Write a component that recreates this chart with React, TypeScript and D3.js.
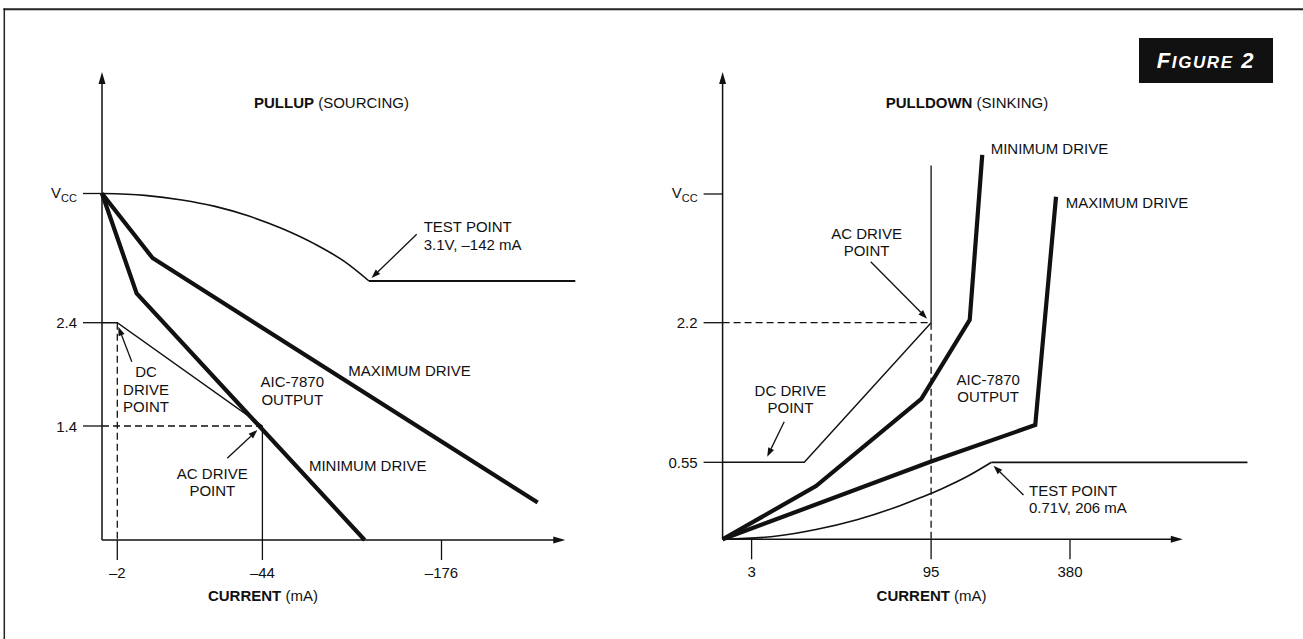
import React from 'react';
import * as d3 from 'd3';

type Pt = [number, number];

// ---------------- LEFT PANEL: PULLUP (SOURCING) — current (mA), voltage (V)
const pullupXTicks = [-2, -44, -176];
const pullupXTickLabels = ['–2', '–44', '–176'];
const pullupYTicks = [2.4, 1.4];
const pullupYTickLabels = ['2.4', '1.4'];
const pullupVcc = 5;
const pullupTestCurve: Pt[] = [
  [0, 5], [-10, 4.96], [-20.7, 4.86], [-30.3, 4.72], [-40.1, 4.51],
  [-62, 4.24], [-92.4, 3.9], [-119, 3.53], [-142, 3.1],
];
const pullupTestFlat: Pt[] = [[-142, 3.1], [-256, 3.1]];
const pullupMaxDrive: Pt[] = [[0, 5], [-12.2, 3.6], [-233.5, 0.46]];
const pullupMinDrive: Pt[] = [[0, 5], [-7.6, 2.89], [-138, 0]];
const pullupOutput: Pt[] = [[0, 2.4], [-2, 2.4], [-44, 1.4]];
const pullupDcPoint: Pt = [-2, 2.4];
const pullupAcPoint: Pt = [-44, 1.4];
const pullupTestPoint: Pt = [-142, 3.1];

// ---------------- RIGHT PANEL: PULLDOWN (SINKING)
const pulldownXTicks = [3, 95, 380];
const pulldownXTickLabels = ['3', '95', '380'];
const pulldownYTicks = [2.2, 0.55];
const pulldownYTickLabels = ['2.2', '0.55'];
const pulldownVcc = 5;
const pulldownTestCurve: Pt[] = [
  [0, 0], [14, 0.02], [36, 0.07], [57, 0.14], [79, 0.24], [90, 0.3],
  [114, 0.36], [162, 0.45], [206, 0.55],
];
const pulldownTestFlat: Pt[] = [[206, 0.55], [726, 0.55]];
const pulldownMinDrive: Pt[] = [[0, 0], [36, 0.38], [90, 1.3], [166, 2.26], [189, 5.48]];
const pulldownMaxDrive: Pt[] = [[0, 0], [95, 0.56], [303, 0.99], [349, 4.94]];
const pulldownOutput: Pt[] = [[0, 0.55], [30, 0.55], [95, 2.2]];
const pulldownAcLine: Pt[] = [[95, 5.35], [95, 2.2]];
const pulldownDcPoint: Pt = [11, 0.55];
const pulldownAcPoint: Pt = [95, 2.2];
const pulldownTestPoint: Pt = [206, 0.55];

const FONT = '"Liberation Sans", Arial, Helvetica, sans-serif';
const INK = '#111';
const FS = 15;

function Arrow({ x1, y1, x2, y2, head = 9, half = 3.2, width = 1.3 }:
  { x1: number; y1: number; x2: number; y2: number; head?: number; half?: number; width?: number }) {
  const a = Math.atan2(y2 - y1, x2 - x1);
  const bx = x2 - head * Math.cos(a);
  const by = y2 - head * Math.sin(a);
  const px = -Math.sin(a) * half;
  const py = Math.cos(a) * half;
  return (
    <g>
      <line x1={x1} y1={y1} x2={bx} y2={by} stroke={INK} strokeWidth={width} />
      <polygon points={`${x2},${y2} ${bx + px},${by + py} ${bx - px},${by - py}`} fill={INK} />
    </g>
  );
}

function Lines({ lines, x, y, anchor = 'middle', dy = 17.5 }:
  { lines: string[]; x: number; y: number; anchor?: string; dy?: number }) {
  return (
    <text x={x} y={y} textAnchor={anchor as any} fontFamily={FONT} fontSize={FS} fill={INK}>
      {lines.map((l, i) => (
        <tspan key={i} x={x} dy={i === 0 ? 0 : dy}>{l}</tspan>
      ))}
    </text>
  );
}

function Panel({ xs, ys, xMax, yMax, xTicks, xTickLabels, yTicks, yTickLabels, vcc, title, titleRest, children }:
  any) {
  const x0 = xs(0);
  const y0 = ys(0);
  const yTop = ys(yMax);
  const xEnd = xs(xMax);
  return (
    <g>
      {/* axes */}
      <line x1={x0} y1={y0} x2={x0} y2={yTop + 9} stroke={INK} strokeWidth={1.5} />
      <polygon points={`${x0},${yTop} ${x0 - 3.5},${yTop + 12} ${x0 + 3.5},${yTop + 12}`} fill={INK} />
      <line x1={x0} y1={y0} x2={xEnd - 9} y2={y0} stroke={INK} strokeWidth={1.5} />
      <polygon points={`${xEnd},${y0} ${xEnd - 12},${y0 - 3.5} ${xEnd - 12},${y0 + 3.5}`} fill={INK} />
      {/* y ticks */}
      {yTicks.map((t: number, i: number) => (
        <g key={'yt' + i}>
          <line x1={x0 - 19} x2={x0} y1={ys(t)} y2={ys(t)} stroke={INK} strokeWidth={1.3} />
          <text x={x0 - 25} y={ys(t) + 5.5} textAnchor="end" fontFamily={FONT} fontSize={FS} fill={INK}>{yTickLabels[i]}</text>
        </g>
      ))}
      <line x1={x0 - 19} x2={x0} y1={ys(vcc)} y2={ys(vcc)} stroke={INK} strokeWidth={1.3} />
      <text x={x0 - 25} y={ys(vcc) + 4} textAnchor="end" fontFamily={FONT} fontSize={FS} fill={INK}>
        V<tspan fontSize={11} dy={4}>CC</tspan>
      </text>
      {/* x ticks */}
      {xTicks.map((t: number, i: number) => (
        <g key={'xt' + i}>
          <line x1={xs(t)} x2={xs(t)} y1={y0} y2={y0 + 20} stroke={INK} strokeWidth={1.3} />
          <text x={xs(t)} y={y0 + 37.5} textAnchor="middle" fontFamily={FONT} fontSize={FS} fill={INK}>{xTickLabels[i]}</text>
        </g>
      ))}
      <text x={(xs(xTicks[1]) + 0.5)} y={600.5} textAnchor="middle" fontFamily={FONT} fontSize={FS} fill={INK}>
        <tspan fontWeight="bold">CURRENT</tspan> (mA)
      </text>
      {children}
    </g>
  );
}

export default function App() {
  const lx = d3.scaleLinear().domain([0, -2, -44, -142, -176, -260]).range([102, 117.3, 262.4, 369, 441.5, 582]);
  const ly = d3.scaleLinear().domain([0, 1.4, 2.4, 3.1, 5, 6.6]).range([540, 426, 322.7, 281, 193.5, 72]);
  const rx = d3.scaleLinear().domain([0, 3, 95, 206, 380, 600, 730]).range([722.6, 751.6, 931.1, 991.5, 1070, 1182.8, 1249.5]);
  const ry = d3.scaleLinear().domain([0, 0.55, 2.2, 5, 6.5]).range([539.3, 462.3, 322.7, 194, 72]);

  const mk = (xs: any, ys: any, curve: any = d3.curveLinear) =>
    d3.line<Pt>().x(d => xs(d[0])).y(d => ys(d[1])).curve(curve);
  const lLin = mk(lx, ly);
  const lCur = mk(lx, ly, d3.curveMonotoneX);
  const rLin = mk(rx, ry);
  const rCur = mk(rx, ry, d3.curveMonotoneX);

  const thick = { fill: 'none', stroke: INK, strokeWidth: 4.2, strokeLinejoin: 'miter' as const };
  const thin = { fill: 'none', stroke: INK, strokeWidth: 1.4 };
  const dash = { stroke: INK, strokeWidth: 1.3, strokeDasharray: '7 4' };

  return (
    <svg width={1303} height={639} style={{ position: 'absolute', left: 0, top: 0, background: '#fff', display: 'block' }}>
      <rect x={0} y={0} width={1303} height={639} fill="#fff" />
      {/* frame */}
      <line x1={3.5} y1={9.3} x2={1303} y2={9.3} stroke="#222" strokeWidth={2} />
      <line x1={4.3} y1={8.3} x2={4.3} y2={639} stroke="#222" strokeWidth={1.5} />

      {/* FIGURE 2 badge */}
      <rect x={1139} y={38} width={134} height={45} fill="#111" />
      <text x={1206} y={67.5} textAnchor="middle" fontFamily={FONT} fontWeight="bold" fontStyle="italic" fill="#fff" letterSpacing={1.6}>
        <tspan fontSize={22}>F</tspan><tspan fontSize={17}>IGURE</tspan><tspan fontSize={22}> 2</tspan>
      </text>

      {/* LEFT PANEL */}
      <Panel xs={lx} ys={ly} xMax={-250} yMax={6.6} xTicks={pullupXTicks} xTickLabels={pullupXTickLabels}
        yTicks={pullupYTicks} yTickLabels={pullupYTickLabels} vcc={pullupVcc}>
        <text x={331.5} y={107.5} textAnchor="middle" fontFamily={FONT} fontSize={FS} fill={INK}>
          <tspan fontWeight="bold">PULLUP</tspan> (SOURCING)
        </text>
        {/* guides */}
        <line x1={lx(pullupDcPoint[0])} x2={lx(pullupDcPoint[0])} y1={ly(pullupDcPoint[1])} y2={ly(0)} {...dash} />
        <line x1={lx(0)} x2={lx(pullupAcPoint[0])} y1={ly(pullupAcPoint[1])} y2={ly(pullupAcPoint[1])} {...dash} />
        <line x1={lx(pullupAcPoint[0])} x2={lx(pullupAcPoint[0])} y1={ly(pullupAcPoint[1])} y2={ly(0)} stroke={INK} strokeWidth={1.3} />
        {/* curves */}
        <path d={lCur(pullupTestCurve) || ''} {...thin} strokeWidth={1.6} />
        <path d={lLin(pullupTestFlat) || ''} {...thin} strokeWidth={1.8} />
        <path d={lLin(pullupOutput) || ''} {...thin} />
        <path d={lLin(pullupMaxDrive) || ''} {...thick} />
        <path d={lLin(pullupMinDrive) || ''} {...thick} />
        {/* annotations */}
        <Lines lines={['TEST POINT', '3.1V, –142 mA']} x={423.7} y={231.5} anchor="start" dy={18.3} />
        <Arrow x1={lx(pullupTestPoint[0]) + 47.7} y1={ly(pullupTestPoint[1]) - 46.7} x2={lx(pullupTestPoint[0]) + 2.5} y2={ly(pullupTestPoint[1]) - 3} />
        <Lines lines={['DC', 'DRIVE', 'POINT']} x={146} y={377.2} />
        <Arrow x1={lx(pullupDcPoint[0]) + 14.5} y1={ly(pullupDcPoint[1]) + 39} x2={lx(pullupDcPoint[0]) + 1} y2={ly(pullupDcPoint[1]) + 4} />
        <Lines lines={['AIC-7870', 'OUTPUT']} x={292.3} y={387.2} />
        <text x={348.3} y={375.5} fontFamily={FONT} fontSize={FS} fill={INK}>MAXIMUM DRIVE</text>
        <text x={308.9} y={470.5} fontFamily={FONT} fontSize={FS} fill={INK}>MINIMUM DRIVE</text>
        <Lines lines={['AC DRIVE', 'POINT']} x={212.3} y={478.8} dy={16.7} />
        <Arrow x1={lx(pullupAcPoint[0]) - 35.2} y1={ly(pullupAcPoint[1]) + 32.3} x2={lx(pullupAcPoint[0]) - 5} y2={ly(pullupAcPoint[1]) + 4} />
      </Panel>

      {/* RIGHT PANEL */}
      <Panel xs={rx} ys={ry} xMax={600} yMax={6.5} xTicks={pulldownXTicks} xTickLabels={pulldownXTickLabels}
        yTicks={pulldownYTicks} yTickLabels={pulldownYTickLabels} vcc={pulldownVcc}>
        <text x={967} y={107.5} textAnchor="middle" fontFamily={FONT} fontSize={FS} fill={INK}>
          <tspan fontWeight="bold">PULLDOWN</tspan> (SINKING)
        </text>
        {/* guides */}
        <line x1={rx(0)} x2={rx(pulldownAcPoint[0])} y1={ry(pulldownAcPoint[1])} y2={ry(pulldownAcPoint[1])} {...dash} />
        <line x1={rx(pulldownAcPoint[0])} x2={rx(pulldownAcPoint[0])} y1={ry(pulldownAcPoint[1])} y2={ry(0)} {...dash} />
        <path d={rLin(pulldownAcLine) || ''} {...thin} strokeWidth={1.3} />
        {/* curves */}
        <path d={rCur(pulldownTestCurve) || ''} {...thin} strokeWidth={1.6} />
        <path d={rLin(pulldownTestFlat) || ''} {...thin} strokeWidth={1.8} />
        <path d={rLin(pulldownOutput) || ''} {...thin} />
        <path d={rLin(pulldownMinDrive) || ''} {...thick} />
        <path d={rLin(pulldownMaxDrive) || ''} {...thick} />
        {/* annotations */}
        <text x={990.7} y={153.8} fontFamily={FONT} fontSize={FS} fill={INK}>MINIMUM DRIVE</text>
        <text x={1065.7} y={208} fontFamily={FONT} fontSize={FS} fill={INK}>MAXIMUM DRIVE</text>
        <Lines lines={['AC DRIVE', 'POINT']} x={866.6} y={238.8} dy={16.7} />
        <Arrow x1={rx(pulldownAcPoint[0]) - 60.4} y1={ry(pulldownAcPoint[1]) - 61} x2={rx(pulldownAcPoint[0]) - 4} y2={ry(pulldownAcPoint[1]) - 4} />
        <Lines lines={['DC DRIVE', 'POINT']} x={790.4} y={395.5} dy={17.3} />
        <Arrow x1={rx(pulldownDcPoint[0]) + 17} y1={ry(pulldownDcPoint[1]) - 40.6} x2={rx(pulldownDcPoint[0])} y2={ry(pulldownDcPoint[1]) - 5.6} />
        <Lines lines={['AIC-7870', 'OUTPUT']} x={988.2} y={384.5} dy={17} />
        <Lines lines={['TEST POINT', '0.71V, 206 mA']} x={1029} y={495.5} anchor="start" dy={17.3} />
        <Arrow x1={rx(pulldownTestPoint[0]) + 32} y1={ry(pulldownTestPoint[1]) + 32.7} x2={rx(pulldownTestPoint[0]) + 2} y2={ry(pulldownTestPoint[1]) + 3.4} />
      </Panel>
    </svg>
  );
}
